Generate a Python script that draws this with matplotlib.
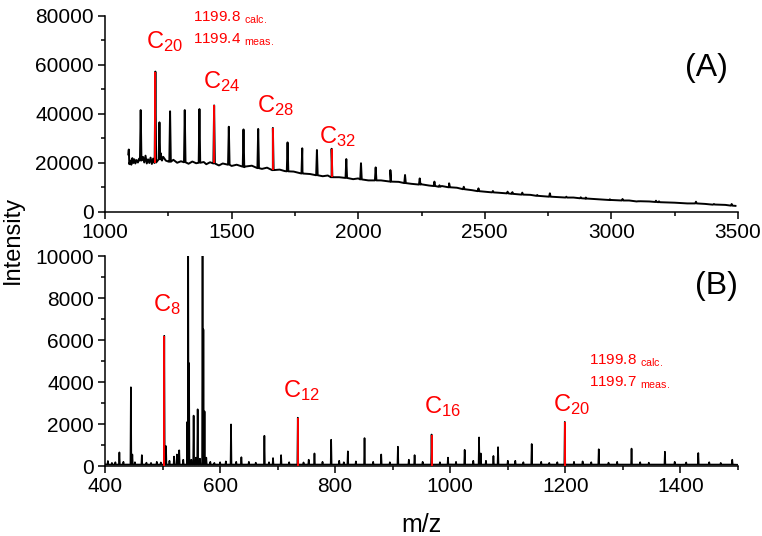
import numpy as np
import matplotlib
matplotlib.use("Agg")
import matplotlib.pyplot as plt
from matplotlib.ticker import MultipleLocator

plt.rcParams['font.family'] = ['Liberation Sans', 'DejaVu Sans']
plt.rcParams['mathtext.fontset'] = 'custom'
plt.rcParams['mathtext.rm'] = 'Liberation Sans'
plt.rcParams['mathtext.it'] = 'Liberation Sans'
plt.rcParams['mathtext.default'] = 'regular'

RED = '#ff0000'

# ---- panel (A) data ----
# baseline knots (m/z, intensity), noisy start then slow decay
base_A_mz = [1092, 1094, 1096, 1100, 1104, 1108, 1112, 1116, 1120, 1125, 1130, 1135,
             1150, 1155, 1160, 1165, 1170, 1175, 1180, 1185, 1190, 1195, 1220, 1225,
             1230, 1240, 1250, 1270, 1285, 1300, 1330, 1345, 1360, 1390, 1400, 1415,
             1450, 1465, 1500, 1520, 1550, 1580, 1620, 1640, 1663, 1690, 1710, 1745,
             1780, 1810, 1860, 1880, 1895, 1925, 1980, 2000, 2040, 2090, 2127, 2160,
             2210, 2250, 2280, 2330, 2359, 2390, 2450, 2500, 2550, 2600, 2680, 2750,
             2800, 2850, 2900, 2950, 3000, 3070, 3100, 3150, 3250, 3300, 3370, 3400,
             3450, 3490]
base_A = [23500, 25500, 19500, 21000, 19300, 22000, 20000, 21500, 19800, 21200, 20200, 21800,
          22500, 20200, 23000, 19800, 21500, 20000, 22200, 19600, 21800, 20000, 24000, 21000,
          22500, 21000, 20600, 21300, 20100, 20700, 19700, 20600, 19900, 20400, 19500, 20300,
          19000, 19800, 18800, 19300, 18300, 18900, 17600, 18100, 17100, 17300, 16700, 16500,
          15900, 15500, 14600, 14900, 14200, 14200, 13400, 13700, 12900, 12900, 12400, 12300,
          11500, 11300, 10800, 10600, 10100, 9900, 8900, 8300, 7900, 7500, 7000, 6300,
          6000, 5900, 5400, 5200, 4900, 4700, 4300, 4300, 3800, 3500, 3300, 3000,
          2900, 2500]

peaks_A_mz = [1141, 1199, 1215, 1257, 1315, 1373, 1431, 1489, 1547, 1605, 1663, 1721,
              1779, 1837, 1895, 1953, 2011, 2069, 2127, 2185, 2243, 2301, 2321, 2359,
              2417, 2475, 2532, 2590, 2609, 2648, 2707, 2757, 2822, 2879, 2899, 2994,
              3044, 3109, 3176, 3188, 3334, 3405, 3475]
peaks_A_top = [41600, 57300, 36600, 41100, 41600, 42000, 43500, 34800, 33700, 33900, 34300, 28400,
               26000, 25300, 25800, 21600, 19900, 18200, 17100, 15100, 13700, 12400, 10900, 11700,
               10300, 9650, 8570, 8300, 8100, 7900, 6940, 7630, 6250, 6000, 5900, 5170,
               5300, 4350, 4600, 4350, 4200, 3260, 3260]
peaks_A_base = [21000, 20200, 21500, 20500, 20300, 20100, 19800, 19300, 18500, 17900, 17100, 16600,
                15700, 15000, 14200, 13900, 13300, 12900, 12400, 11800, 11200, 10600, 10300, 10100,
                9300, 8500, 8000, 7600, 7400, 7100, 6600, 6250, 5900, 5600, 5500, 4900,
                4700, 4400, 4100, 4000, 3500, 3050, 2600]
labels_A = ['C$_{20}$', 'C$_{24}$', 'C$_{28}$', 'C$_{32}$']
red_A = [1199, 1431, 1663, 1895]

# ---- panel (B) data ----
base_B_mz = [401, 600, 800, 1000, 1200, 1400, 1500]
base_B = [80, 70, 70, 75, 70, 65, 60]

peaks_B_mz = [405, 412, 418, 425, 432, 445, 447.5, 452, 464, 472, 480, 490, 497, 503, 506,
              512, 520, 525, 529, 536, 543, 544.5, 546, 550, 554, 558, 561, 565, 569.5,
              571, 573, 576, 583, 590, 600, 610, 619, 628, 637, 650, 662, 677, 685, 692,
              706, 720, 735, 745, 754, 764, 778, 793, 807, 815, 822, 836, 851, 866, 880,
              895, 909, 928, 938, 952, 967.5, 982, 996, 1010, 1025, 1040, 1050, 1053,
              1062, 1075, 1083, 1100, 1113, 1127, 1141.5, 1158, 1172, 1186, 1199, 1215,
              1230, 1245, 1258, 1275, 1290, 1315, 1330, 1345, 1373, 1390, 1410, 1431,
              1450, 1470, 1490]
peaks_B_top = [240, 150, 180, 650, 200, 3750, 550, 180, 520, 160, 150, 200, 170, 6200, 950,
               250, 450, 550, 750, 300, 2100, 11500, 4900, 300, 2400, 400, 2700, 350, 11500,
               6500, 2600, 400, 200, 150, 180, 220, 1980, 200, 420, 200, 160, 1440, 180, 380,
               520, 180, 2300, 170, 300, 600, 200, 1250, 250, 180, 700, 220, 1330, 200, 550,
               180, 920, 300, 520, 200, 1500, 180, 400, 200, 770, 250, 1360, 600,
               250, 480, 900, 250, 250, 180, 1050, 200, 150, 180, 2100, 200,
               220, 180, 800, 160, 200, 830, 180, 160, 680, 200, 170, 620,
               180, 150, 300]
labels_B = ['C$_{8}$', 'C$_{12}$', 'C$_{16}$', 'C$_{20}$']
red_B = [503, 735, 967.5, 1199]


def trace(bmz, bval, pmz, ptop, pbase, w):
    pts = list(zip(bmz, bval))
    for m, t, b in zip(pmz, ptop, pbase):
        pts += [(m - w, b), (m, t), (m + w, b)]
    pts.sort()
    return [p[0] for p in pts], [p[1] for p in pts]


def style(ax):
    for s in ['top', 'right']:
        ax.spines[s].set_visible(False)
    for s in ['left', 'bottom']:
        ax.spines[s].set_linewidth(1.1)
    ax.tick_params(which='major', direction='out', length=5, width=1.1, labelsize=15, pad=3)
    ax.tick_params(which='minor', direction='out', length=3, width=1.1)


fig = plt.figure(figsize=(7.62, 5.36), dpi=100)
W, H = 762, 536
axA = fig.add_axes([105 / W, 1 - 212 / H, 633 / W, 196 / H])
axB = fig.add_axes([105 / W, 1 - 466 / H, 633 / W, 210 / H])

# (A)
x, y = trace(base_A_mz, base_A, peaks_A_mz, peaks_A_top, peaks_A_base, 3)
axA.plot(x, y, color='black', lw=1.4)
for m, t, b in zip(peaks_A_mz, peaks_A_top, peaks_A_base):
    if m in red_A:
        axA.vlines(m, b, t, color=RED, lw=1.4, zorder=3)
axA.set_xlim(1000, 3500)
axA.set_ylim(0, 80000)
axA.xaxis.set_major_locator(MultipleLocator(500))
axA.xaxis.set_minor_locator(MultipleLocator(250))
axA.yaxis.set_major_locator(MultipleLocator(20000))
axA.yaxis.set_minor_locator(MultipleLocator(10000))
style(axA)
for (lx, ly), s in zip([(1162, 66800), (1386, 50500), (1600, 40900), (1846, 28000)], labels_A):
    axA.text(lx, ly, s, color=RED, fontsize=17, ha='left', va='baseline')
axA.text(1349, 77700, '1199.8 $_{calc.}$', color=RED, fontsize=11, ha='left', va='baseline')
axA.text(1349, 68600, '1199.4 $_{meas.}$', color=RED, fontsize=11, ha='left', va='baseline')
axA.text(3377, 58800, '(A)', fontsize=23, ha='center', va='center')

# (B)
x, y = trace(base_B_mz, base_B, peaks_B_mz, peaks_B_top, [70] * len(peaks_B_mz), 0.8)
axB.plot(x, y, color='black', lw=1.2)
for m, t in zip(peaks_B_mz, peaks_B_top):
    if m in red_B:
        axB.vlines(m, 0, t, color=RED, lw=1.4, zorder=3)
axB.set_xlim(400, 1500)
axB.set_ylim(0, 10000)
axB.xaxis.set_major_locator(MultipleLocator(200))
axB.xaxis.set_minor_locator(MultipleLocator(100))
axB.yaxis.set_major_locator(MultipleLocator(2000))
axB.yaxis.set_minor_locator(MultipleLocator(1000))
style(axB)
for (lx, ly), s in zip([(483, 7390), (709, 3270), (954, 2510), (1178.6, 2620)], labels_B):
    axB.text(lx, ly, s, color=RED, fontsize=17, ha='left', va='baseline')
axB.text(1241, 4810, '1199.8 $_{calc.}$', color=RED, fontsize=11, ha='left', va='baseline')
axB.text(1241, 3780, '1199.7 $_{meas.}$', color=RED, fontsize=11, ha='left', va='baseline')
axB.text(1462, 8570, '(B)', fontsize=23, ha='center', va='center')
axB.set_xlabel('m/z', fontsize=18, labelpad=12)

fig.text(13 / W, 1 - 240 / H, 'Intensity', fontsize=17, rotation=90, ha='center', va='center')

fig.savefig('out.png', dpi=100)
